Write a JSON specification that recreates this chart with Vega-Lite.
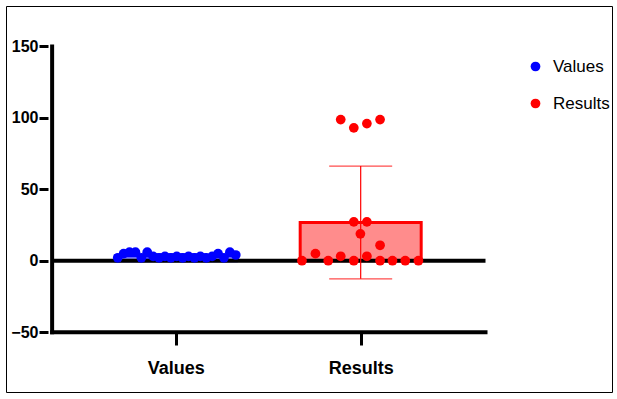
{
  "$schema": "https://vega.github.io/schema/vega-lite/v6.json",
  "width": 606,
  "height": 386,
  "autosize": "none",
  "padding": {"left": 6, "top": 6, "right": 5, "bottom": 7},
  "background": "white",
  "config": {
    "view": {"stroke": "black", "strokeWidth": 1},
    "font": "Liberation Sans Narrow, Liberation Sans, Arial, sans-serif"
  },
  "resolve": {
    "axis": {"x": "independent", "y": "independent"},
    "legend": {"color": "independent", "stroke": "independent"}
  },
  "data": {
    "values": [
      {"group": "Values", "pos": 1, "x": 0.6862, "value": 2},
      {"group": "Values", "pos": 1, "x": 0.7181, "value": 5},
      {"group": "Values", "pos": 1, "x": 0.75, "value": 6},
      {"group": "Values", "pos": 1, "x": 0.7819, "value": 6},
      {"group": "Values", "pos": 1, "x": 0.8138, "value": 2},
      {"group": "Values", "pos": 1, "x": 0.8457, "value": 6},
      {"group": "Values", "pos": 1, "x": 0.8777, "value": 3},
      {"group": "Values", "pos": 1, "x": 0.9096, "value": 2},
      {"group": "Values", "pos": 1, "x": 0.9415, "value": 3},
      {"group": "Values", "pos": 1, "x": 0.9734, "value": 2},
      {"group": "Values", "pos": 1, "x": 1.0053, "value": 3},
      {"group": "Values", "pos": 1, "x": 1.0372, "value": 2},
      {"group": "Values", "pos": 1, "x": 1.0691, "value": 3},
      {"group": "Values", "pos": 1, "x": 1.1011, "value": 2},
      {"group": "Values", "pos": 1, "x": 1.133, "value": 3},
      {"group": "Values", "pos": 1, "x": 1.1649, "value": 2},
      {"group": "Values", "pos": 1, "x": 1.1968, "value": 3},
      {"group": "Values", "pos": 1, "x": 1.2287, "value": 5},
      {"group": "Values", "pos": 1, "x": 1.2606, "value": 2},
      {"group": "Values", "pos": 1, "x": 1.2926, "value": 6},
      {"group": "Values", "pos": 1, "x": 1.3245, "value": 4},
      {"group": "Results", "pos": 2, "x": 1.6824, "value": 0},
      {"group": "Results", "pos": 2, "x": 1.7553, "value": 5.0},
      {"group": "Results", "pos": 2, "x": 1.8245, "value": 0},
      {"group": "Results", "pos": 2, "x": 1.892, "value": 98.8},
      {"group": "Results", "pos": 2, "x": 1.892, "value": 3.1},
      {"group": "Results", "pos": 2, "x": 1.9628, "value": 93.0},
      {"group": "Results", "pos": 2, "x": 1.9628, "value": 27.2},
      {"group": "Results", "pos": 2, "x": 1.9628, "value": 0},
      {"group": "Results", "pos": 2, "x": 1.9984, "value": 18.8},
      {"group": "Results", "pos": 2, "x": 2.0335, "value": 96.0},
      {"group": "Results", "pos": 2, "x": 2.0335, "value": 27.2},
      {"group": "Results", "pos": 2, "x": 2.0335, "value": 3.1},
      {"group": "Results", "pos": 2, "x": 2.1048, "value": 98.8},
      {"group": "Results", "pos": 2, "x": 2.1048, "value": 10.8},
      {"group": "Results", "pos": 2, "x": 2.1048, "value": 0},
      {"group": "Results", "pos": 2, "x": 2.1718, "value": 0},
      {"group": "Results", "pos": 2, "x": 2.241, "value": 0},
      {"group": "Results", "pos": 2, "x": 2.3122, "value": 0}
    ]
  },
  "layer": [
    {
      "mark": {"type": "bar", "width": 121, "strokeWidth": 3, "fillOpacity": 0.45},
      "encoding": {
        "x": {"field": "pos", "type": "quantitative", "scale": {"domain": [0.109, 3.332], "nice": false, "zero": false}, "axis": null},
        "y": {"aggregate": "mean", "field": "value", "type": "quantitative", "scale": {"domain": [-91.9, 178.3], "nice": false, "zero": false}, "axis": null},
        "color": {"field": "group", "type": "nominal", "scale": {"domain": ["Values", "Results"], "range": ["#0000ff", "#ff0000"]}, "legend": null},
        "stroke": {"field": "group", "type": "nominal", "scale": {"domain": ["Values", "Results"], "range": ["#0000ff", "#ff0000"]}, "legend": null}
      }
    },
    {
      "data": {"values": [{}]},
      "mark": {"type": "rule", "strokeWidth": 4, "color": "black"},
      "encoding": {
        "y": {"datum": 0, "type": "quantitative", "axis": null},
        "x": {"datum": 0.3314, "type": "quantitative", "axis": null},
        "x2": {"datum": 2.675}
      }
    },
    {
      "mark": {"type": "errorbar", "extent": "stdev", "orient": "vertical", "ticks": {"size": 63, "thickness": 1.2}, "rule": {"strokeWidth": 1.2}},
      "encoding": {
        "x": {"field": "pos", "type": "quantitative", "axis": null},
        "y": {"field": "value", "type": "quantitative", "axis": null},
        "color": {"field": "group", "type": "nominal", "legend": null}
      }
    },
    {
      "data": {"values": [{}]},
      "mark": {"type": "rule", "strokeWidth": 4, "color": "black", "strokeCap": "square"},
      "encoding": {
        "x": {"datum": 0.3314, "type": "quantitative", "axis": null},
        "y": {"datum": -50, "type": "quantitative", "axis": null},
        "y2": {"datum": 150}
      }
    },
    {
      "data": {"values": [{}]},
      "mark": {"type": "rule", "strokeWidth": 4, "color": "black", "strokeCap": "square"},
      "encoding": {
        "y": {"datum": -50, "type": "quantitative", "axis": null},
        "x": {"datum": 0.3314, "type": "quantitative", "axis": null},
        "x2": {"datum": 2.675}
      }
    },
    {
      "mark": {"type": "circle", "size": 95, "opacity": 1},
      "encoding": {
        "x": {
          "field": "x", "type": "quantitative",
          "axis": {
            "orient": "bottom", "offset": -59, "values": [1, 2], "domain": false, "grid": false,
            "labelExpr": "datum.value == 1 ? 'Values' : 'Results'",
            "tickColor": "black", "tickWidth": 3, "tickSize": 12,
            "labelFontSize": 18, "labelFontWeight": "bold", "labelColor": "black", "labelPadding": 14,
            "title": null
          }
        },
        "y": {
          "field": "value", "type": "quantitative",
          "axis": {
            "orient": "left", "offset": -42, "values": [-50, 0, 50, 100, 150], "domain": false, "grid": false,
            "tickColor": "black", "tickWidth": 3, "tickSize": 9,
            "labelFontSize": 16, "labelFontWeight": "bold", "labelColor": "black", "labelPadding": 1,
            "title": null
          }
        },
        "color": {
          "field": "group", "type": "nominal",
          "legend": {
            "orient": "none", "legendX": 521, "legendY": 52, "title": null,
            "labelFontSize": 17, "labelColor": "black", "symbolSize": 95, "symbolType": "circle",
            "rowPadding": 19, "labelOffset": 9, "padding": 0
          }
        }
      }
    }
  ]
}
